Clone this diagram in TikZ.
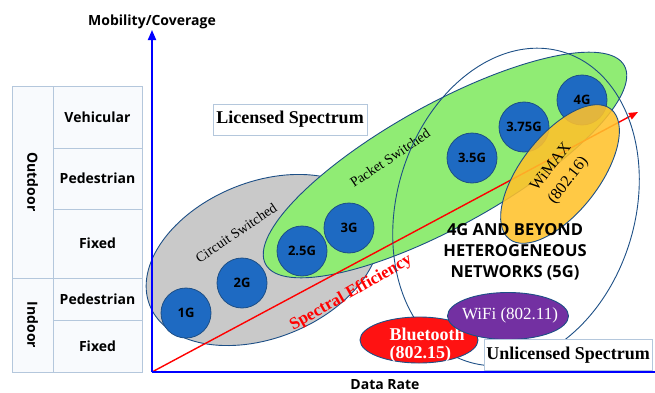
\documentclass[tikz,border=0pt]{standalone}
\usepackage{fontspec}
\setmainfont{Liberation Serif}
\setsansfont{Open Sans}
\usetikzlibrary{shapes.geometric,arrows.meta}
\definecolor{cellline}{HTML}{B4C7DC}
\definecolor{cellfill}{HTML}{F8FAFD}
\definecolor{genblue}{HTML}{1E6AC2}
\definecolor{genline}{HTML}{1D4F86}
\definecolor{circgray}{HTML}{C9C9C9}
\definecolor{packgreen}{HTML}{90EC74}
\definecolor{wimaxyellow}{HTML}{FFC12B}
\definecolor{btred}{HTML}{FF1212}
\definecolor{wifipurple}{HTML}{7330A2}

\begin{document}
\begin{tikzpicture}[x=1pt,y=1pt,
    cell/.style={draw=cellline,fill=cellfill,line width=0.8pt,inner sep=0pt,font=\sffamily\bfseries\fontsize{14}{16}\selectfont},
    lab/.style={font=\sffamily\bfseries\fontsize{14}{16}\selectfont},
    gen/.style={circle,draw=genline,fill=genblue,line width=0.8pt,minimum size=50pt,inner sep=0pt,font=\sffamily\bfseries\fontsize{13}{15}\selectfont},
    zone/.style={ellipse,draw=genline,line width=0.9pt,inner sep=0pt},
    spec/.style={draw=cellline,fill=white,line width=0.8pt,inner sep=2pt,font=\bfseries\fontsize{18}{20}\selectfont},
    axis/.style={draw=blue,line width=1.8pt}]

\useasboundingbox (0,0) rectangle (655,392);

\node (outdoor) at (32.5,210) [cell,minimum width=192,minimum height=41,rotate=-90] {Outdoor};
\node (indoor) at (32.5,67) [cell,minimum width=94,minimum height=41,rotate=-90] {Indoor};
\node (veh) at (97.5,275) [cell,minimum width=89,minimum height=62] {Vehicular};
\node (ped1) at (97.5,213.5) [cell,minimum width=89,minimum height=61] {Pedestrian};
\node (fix1) at (97.5,148.5) [cell,minimum width=89,minimum height=69] {Fixed};
\node (ped2) at (97.5,93) [cell,minimum width=89,minimum height=42] {Pedestrian};
\node (fix2) at (97.5,46) [cell,minimum width=89,minimum height=52] {Fixed};

\node (circuit) at (263,132) [zone,fill=circgray,minimum width=244,minimum height=156,rotate=22] {};
\node (packet) at (445,227) [zone,fill=packgreen,minimum width=410,minimum height=122,rotate=29] {};

\node (g1) at (186,79) [gen] {1G};
\node (g2) at (242,109) [gen] {2G};
\node (g25) at (302,141) [gen] {2.5G};
\node (g3) at (349,164) [gen] {3G};
\node (g35) at (472,234) [gen] {3.5G};
\node (g375) at (524,265) [gen] {3.75G};
\node (g4) at (582,292) [gen] {4G};

\node (cslab) at (236,159) [rotate=34,font=\fontsize{14}{16}\selectfont] {Circuit Switched};
\node (pslab) at (390,234) [rotate=34,font=\fontsize{14}{16}\selectfont] {Packet Switched};

\coordinate (o) at (152,20);
\coordinate (ytop) at (152,362);
\coordinate (xend) at (662,20);
\coordinate (se) at (638,280);
\draw[red,line width=1.4pt,-{Triangle[length=9pt,width=7pt]}] (o) -- (se);
\node (speff) at (351,99) [rotate=29.5,text=red,font=\bfseries\fontsize{17}{19}\selectfont] {Spectral Efficiency};

\node (beyond) at (516,185) [zone,minimum width=324,minimum height=238,rotate=73] {};
\node (wimax) at (560,218) [zone,fill=wimaxyellow,fill opacity=0.88,text opacity=1,minimum width=165,minimum height=78,rotate=52,align=center,font=\fontsize{16}{22}\selectfont] {WiMAX\\(802.16)};
\node (bt) at (419,52) [zone,fill=btred,minimum width=118,minimum height=46] {};
\node (btlab) at (386,47) [anchor=west,align=left,text=white,font=\bfseries\fontsize{18}{18}\selectfont] {Bluetooth\\(802.15)};
\node (wifi) at (508,76) [zone,fill=wifipurple,minimum width=121,minimum height=47] {};
\node (wifilab) at (510,77) [text=white,font=\fontsize{17}{18}\selectfont] {WiFi (802.11)};

\node (lic) at (290,272.5) [spec,minimum width=154,minimum height=31] {Licensed Spectrum};
\node (unlic) at (484,37) [spec,anchor=west,minimum height=31] {Unlicensed Spectrum\hspace{20pt}};

\node (fiveg) at (515,140) [align=center,font=\sffamily\bfseries\fontsize{16.5}{21}\selectfont] {4G AND BEYOND\\HETEROGENEOUS\\NETWORKS (5G)};

\draw[axis,-{Triangle[length=10pt,width=8pt]}] (o) -- (ytop);
\draw[axis] (o) -- (xend);
\node (mob) at (152,370) [lab] {Mobility/Coverage};
\node (rate) at (385,7) [lab] {Data Rate};
\end{tikzpicture}
\end{document}
